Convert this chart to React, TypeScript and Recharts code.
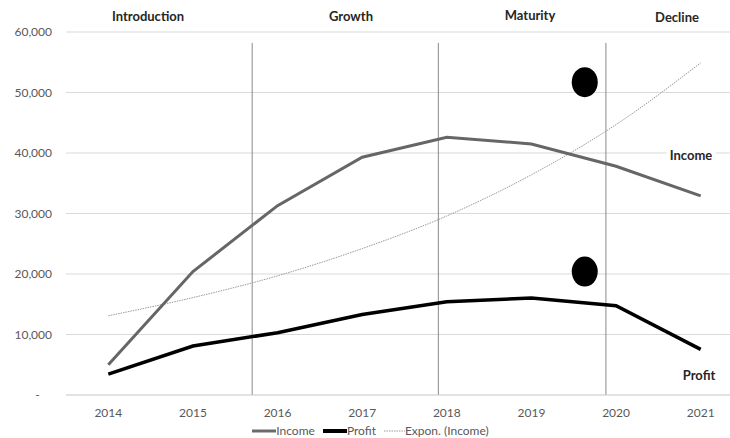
import React from "react";
import {
  ComposedChart,
  Line,
  Scatter,
  XAxis,
  YAxis,
  CartesianGrid,
  ReferenceLine,
  Legend,
} from "recharts";

const years = [2014, 2015, 2016, 2017, 2018, 2019, 2020, 2021];
const income = [5000, 20400, 31300, 39300, 42600, 41500, 37800, 32900];
const profit = [3450, 8100, 10300, 13300, 15400, 16050, 14750, 7550];
const exponIncome = [13100, 16100, 19700, 24200, 29600, 36400, 44700, 54900];
const yTicks = [0, 10000, 20000, 30000, 40000, 50000, 60000];
const phaseBoundaries = [2015.7, 2017.9, 2019.88];
const markerX = [2019.63, 2019.63];
const markerY = [51700, 20400];

const phaseLabels = [
  { text: "Introduction", x: 148, y: 16 },
  { text: "Growth", x: 351, y: 16 },
  { text: "Maturity", x: 530, y: 15 },
  { text: "Decline", x: 677, y: 17 },
  { text: "Income", x: 691, y: 155 },
  { text: "Profit", x: 699, y: 375 },
];

const data = years.map((y, i) => ({
  year: y,
  income: income[i],
  profit: profit[i],
  expon: exponIncome[i],
}));
const markers = markerX.map((x, i) => ({ year: x, value: markerY[i] }));

const FONT = "Lato, 'Open Sans', sans-serif";

const Ellipse = (props: any) => {
  const { cx, cy } = props;
  return <ellipse cx={cx} cy={cy} rx={13} ry={15} fill="#000" />;
};

const legendItems = [
  { name: "Income", color: "#6b6b6b", width: 3, dash: undefined as string | undefined, len: 24 },
  { name: "Profit", color: "#000", width: 4, dash: undefined as string | undefined, len: 24 },
  { name: "Expon. (Income)", color: "#9a9a9a", width: 1, dash: "1.5 1", len: 21 },
];

const renderLegend = () => (
  <div
    style={{
      display: "flex",
      justifyContent: "center",
      alignItems: "center",
      fontFamily: FONT,
      fontSize: 12,
      color: "#595959",
      gap: 4,
      lineHeight: "14px",
    }}
  >
    {legendItems.map((it) => (
      <div key={it.name} style={{ display: "flex", alignItems: "center", marginRight: 4 }}>
        <svg width={it.len} height={8}>
          <line
            x1={0}
            x2={it.len}
            y1={4}
            y2={4}
            stroke={it.color}
            strokeWidth={it.width}
            strokeDasharray={it.dash}
          />
        </svg>
        <span>{it.name}</span>
      </div>
    ))}
  </div>
);

export default function App() {
  return (
    <div
      style={{
        position: "fixed",
        left: 0,
        top: 0,
        width: 730,
        height: 438,
        overflow: "hidden",
        background: "#fff",
      }}
    >
      <ComposedChart
        width={745}
        height={438}
        data={data}
        margin={{ top: 32, right: 2, left: 0, bottom: 9 }}
      >
        <CartesianGrid horizontal vertical={false} stroke="#d9d9d9" />
        <XAxis
          dataKey="year"
          type="number"
          domain={[2013.5, 2021.5]}
          allowDataOverflow
          ticks={years}
          tickLine={false}
          axisLine={{ stroke: "#d9d9d9" }}
          tickMargin={7}
          height={20}
          tick={{ fill: "#595959", fontSize: 12, fontFamily: FONT }}
          interval={0}
        />
        <YAxis
          type="number"
          domain={[0, 60000]}
          allowDataOverflow
          ticks={yTicks}
          width={66}
          axisLine={false}
          tickLine={false}
          tickMargin={8}
          tick={{ fill: "#595959", fontSize: 12, fontFamily: FONT }}
          tickFormatter={(v: number) =>
            v === 0 ? "-\u00a0\u00a0\u00a0\u00a0" : v.toLocaleString("en-US")
          }
        />
        {phaseBoundaries.map((b) => (
          <ReferenceLine
            key={b}
            segment={[
              { x: b, y: 0 },
              { x: b, y: 58200 },
            ]}
            stroke="#8a8a8a"
            strokeWidth={1}
            ifOverflow="visible"
          />
        ))}
        <Line
          type="monotone"
          dataKey="expon"
          name="Expon. (Income)"
          stroke="#9a9a9a"
          strokeWidth={1}
          strokeDasharray="1.5 1"
          dot={false}
          activeDot={false}
          isAnimationActive={false}
        />
        <Line
          type="linear"
          dataKey="income"
          name="Income"
          stroke="#666"
          strokeWidth={3}
          dot={false}
          activeDot={false}
          isAnimationActive={false}
        />
        <Line
          type="linear"
          dataKey="profit"
          name="Profit"
          stroke="#000"
          strokeWidth={3.5}
          dot={false}
          activeDot={false}
          isAnimationActive={false}
        />
        <Scatter
          data={markers}
          dataKey="value"
          shape={<Ellipse />}
          isAnimationActive={false}
          legendType="none"
        />
        <Legend
          content={renderLegend}
          verticalAlign="bottom"
          height={14}
          wrapperStyle={{ left: 0, top: 424, width: 745 }}
        />
      </ComposedChart>
      {phaseLabels.map((l) => (
        <div
          key={l.text}
          style={{
            position: "absolute",
            left: l.x,
            top: l.y,
            transform: "translate(-50%, -50%)",
            fontFamily: FONT,
            fontWeight: 700,
            fontSize: 13,
            color: "#262626",
            background: "#fff",
            padding: "0 3px",
            whiteSpace: "nowrap",
          }}
        >
          {l.text}
        </div>
      ))}
    </div>
  );
}
